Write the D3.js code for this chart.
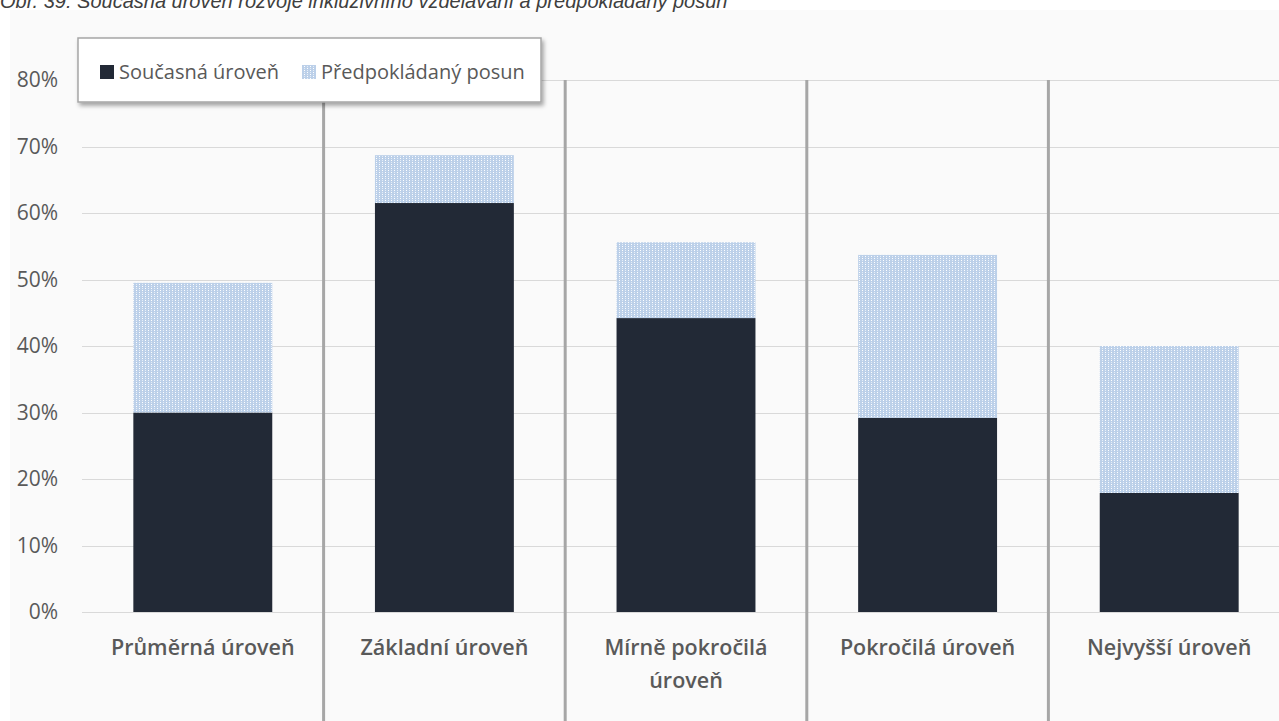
<!DOCTYPE html>
<html>
<head>
<meta charset="utf-8">
<script src="https://cdn.jsdelivr.net/npm/d3@7/dist/d3.min.js"></script>
<style>
  html, body { margin: 0; padding: 0; background: #ffffff; }
  svg { display: block; }
</style>
</head>
<body>
<svg id="chart" width="1279" height="721"></svg>
<script>
// Categories (x axis) and series values in percent
const categories = ["Průměrná úroveň", "Základní úroveň", "Mírně pokročilá úroveň", "Pokročilá úroveň", "Nejvyšší úroveň"];
const currentLevel = [30.0, 61.5, 44.2, 29.2, 17.9];
const expectedShift = [19.5, 7.2, 11.4, 24.5, 22.1];
const seriesNames = ["Současná úroveň", "Předpokládaný posun"];
const yTicks = [0, 10, 20, 30, 40, 50, 60, 70, 80];
const titleText = "Obr. 39: Současná úroveň rozvoje inkluzivního vzdělávání a předpokládaný posun";

const W = 1279, H = 721;
const margin = { left: 82, right: -11, top: 80, bottom: 109 };
const svg = d3.select("#chart");

// Pattern for the expected-shift series: light blue with white dots
const defs = svg.append("defs");
const pat = defs.append("pattern")
  .attr("id", "dots").attr("patternUnits", "userSpaceOnUse")
  .attr("width", 6).attr("height", 4);
pat.append("rect").attr("width", 6).attr("height", 4).attr("fill", "#bcd0e9");
pat.append("rect").attr("x", 1).attr("y", 0).attr("width", 1).attr("height", 1).attr("fill", "#ffffff");
pat.append("rect").attr("x", 4).attr("y", 2).attr("width", 1).attr("height", 1).attr("fill", "#ffffff");
pat.append("rect").attr("x", 1).attr("y", 2).attr("width", 1).attr("height", 1).attr("fill", "#e6eef8");
pat.append("rect").attr("x", 4).attr("y", 0).attr("width", 1).attr("height", 1).attr("fill", "#e6eef8");

const shadow = defs.append("filter").attr("id", "shadow")
  .attr("x", "-10%").attr("y", "-20%").attr("width", "120%").attr("height", "160%");
shadow.append("feDropShadow").attr("dx", 2).attr("dy", 3).attr("stdDeviation", 2)
  .attr("flood-color", "#000").attr("flood-opacity", 0.35);

// Chart area background
svg.append("rect").attr("x", 10).attr("y", 10).attr("width", W - 10).attr("height", H - 10)
  .attr("fill", "#fafafa");

// Figure caption, running off the top edge of the canvas
svg.append("text").attr("x", 0).attr("y", 8)
  .attr("font-family", "Liberation Sans, Arial, sans-serif")
  .attr("font-style", "italic").attr("font-size", 20).attr("fill", "#404040")
  .text(titleText);

const x = d3.scaleBand().domain(categories)
  .range([margin.left, W - margin.right]).paddingInner(0).paddingOuter(0);
const y = d3.scaleLinear().domain([0, 80]).range([H - margin.bottom, margin.top]);
const barW = x.bandwidth() * 0.575;

// Horizontal gridlines
svg.append("g").selectAll("line").data(yTicks).join("line")
  .attr("x1", margin.left).attr("x2", W)
  .attr("y1", d => Math.round(y(d)) + 0.5).attr("y2", d => Math.round(y(d)) + 0.5)
  .attr("stroke", "#d9d9d9").attr("stroke-width", 1);

// Y tick labels
svg.append("g").selectAll("text").data(yTicks).join("text")
  .attr("x", 58).attr("y", d => y(d)).attr("dy", "0.35em")
  .attr("text-anchor", "end")
  .attr("font-family", "Open Sans, sans-serif").attr("font-size", 21).attr("fill", "#595959")
  .text(d => d + "%");

// Vertical separators between categories
svg.append("g").selectAll("line").data(categories.slice(1)).join("line")
  .attr("x1", d => x(d)).attr("x2", d => x(d))
  .attr("y1", y(80)).attr("y2", H)
  .attr("stroke", "#a6a6a6").attr("stroke-width", 3);

// Stacked bars
const rows = categories.map((c, i) => ({ c, a: currentLevel[i], b: expectedShift[i] }));
const gBars = svg.append("g");
gBars.selectAll("rect.cur").data(rows).join("rect").attr("class", "cur")
  .attr("x", d => x(d.c) + (x.bandwidth() - barW) / 2).attr("width", barW)
  .attr("y", d => y(d.a)).attr("height", d => y(0) - y(d.a))
  .attr("fill", "#222936");
gBars.selectAll("rect.shift").data(rows).join("rect").attr("class", "shift")
  .attr("x", d => x(d.c) + (x.bandwidth() - barW) / 2).attr("width", barW)
  .attr("y", d => y(d.a + d.b)).attr("height", d => y(d.a) - y(d.a + d.b))
  .attr("fill", "url(#dots)");

// Category labels (wrapped to two lines when too wide)
const labelG = svg.append("g");
const wrapAt = { "Mírně pokročilá úroveň": ["Mírně pokročilá", "úroveň"] };
categories.forEach(c => {
  const lines = wrapAt[c] || [c];
  const t = labelG.append("text")
    .attr("x", x(c) + x.bandwidth() / 2).attr("y", 655)
    .attr("text-anchor", "middle")
    .attr("font-family", "Open Sans, sans-serif").attr("font-weight", 600)
    .attr("font-size", 21.5).attr("fill", "#595959");
  lines.forEach((l, i) => t.append("tspan")
    .attr("x", x(c) + x.bandwidth() / 2).attr("dy", i === 0 ? 0 : 33).text(l));
});

// Legend
const lg = svg.append("g");
lg.append("rect").attr("x", 78).attr("y", 38).attr("width", 463).attr("height", 64)
  .attr("fill", "#ffffff").attr("stroke", "#a6a6a6").attr("stroke-width", 1.5)
  .attr("filter", "url(#shadow)");
const legendItems = [
  { name: seriesNames[0], fill: "#222936", sx: 100, tx: 119 },
  { name: seriesNames[1], fill: "url(#dots)", sx: 302, tx: 321 }
];
legendItems.forEach(it => {
  lg.append("rect").attr("x", it.sx).attr("y", 65).attr("width", 14).attr("height", 14).attr("fill", it.fill);
  lg.append("text").attr("x", it.tx).attr("y", 79)
    .attr("font-family", "Open Sans, sans-serif").attr("font-size", 20).attr("fill", "#595959")
    .text(it.name);
});
</script>
</body>
</html>
